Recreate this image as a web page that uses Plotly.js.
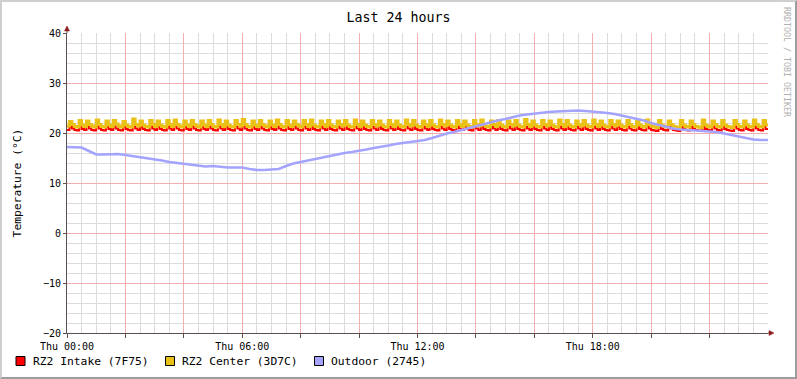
<!DOCTYPE html>
<html>
<head>
<meta charset="utf-8">
<script src="https://cdn.plot.ly/plotly-3.0.1.min.js"></script>
<style>
html,body{margin:0;padding:0;background:#fff;}
#wrap{position:relative;width:797px;height:379px;}
#chart{position:absolute;left:0;top:0;width:797px;height:379px;}
#frame{position:absolute;left:0;top:0;width:797px;height:379px;box-sizing:border-box;
 border-top:2px solid #cfcfcf;border-left:2px solid #cfcfcf;border-right:2px solid #9d9d9d;border-bottom:2px solid #9d9d9d;pointer-events:none;}
</style>
</head>
<body>
<div id="wrap"><div id="chart"></div><div id="frame"></div></div>
<script>
// ---- data (5-minute samples from Thu 00:00 to Fri 00:00) ----
const seriesNames = ['RZ2 Intake (7F75)', 'RZ2 Center (3D7C)', 'Outdoor (2745)'];
const seriesColors = ['#FF0000', '#EAC117', '#A4A4FF'];

const intake = [
20.6,21.2,20.9,20.6,20.5,21.3,20.8,20.6,21.3,20.9,20.6,20.5,
21.4,20.9,20.6,20.5,21.2,20.8,20.6,21.3,20.9,20.6,20.5,21.2,
20.8,20.6,20.5,21.4,20.9,20.6,21.2,20.8,20.6,20.5,21.3,20.9,
20.6,21.2,20.8,20.6,20.5,21.3,20.9,20.6,21.3,20.9,20.6,20.5,
21.2,20.8,20.6,21.3,20.9,20.6,20.5,21.2,20.8,20.6,21.3,20.9,
20.6,20.5,21.3,20.9,20.6,21.2,20.8,20.6,20.5,21.3,20.9,20.6,
21.4,20.9,20.6,20.5,21.2,20.8,20.6,21.3,20.9,20.6,20.5,21.2,
20.8,20.6,21.3,20.9,20.6,20.5,21.3,20.8,20.6,21.2,20.9,20.6,
20.5,21.3,20.9,20.6,21.3,20.8,20.6,20.5,21.2,20.9,20.6,21.3,
20.8,20.6,20.5,21.2,20.9,20.6,21.3,20.8,20.6,20.5,21.3,20.9,
20.6,21.2,20.8,20.6,20.5,21.3,20.9,20.6,21.2,20.8,20.6,20.5,
21.3,20.9,20.6,21.2,20.8,20.6,20.5,21.3,20.9,20.6,21.3,20.8,
20.6,20.5,21.2,20.9,20.6,21.3,20.8,20.6,20.5,21.3,20.9,20.6,
21.2,20.8,20.6,20.5,21.3,20.9,20.6,21.2,20.8,20.6,20.5,21.3,
20.9,20.6,21.3,20.8,20.6,20.5,21.2,20.9,20.6,21.3,20.8,20.6,
20.5,21.2,20.9,20.6,21.3,20.8,20.6,20.5,21.4,20.9,20.6,21.2,
20.8,20.6,20.5,21.3,20.9,20.6,21.2,20.8,20.6,20.5,21.3,20.9,
20.6,21.3,20.8,20.6,20.5,21.2,20.9,20.6,21.3,20.8,20.6,20.5,
21.3,20.9,20.6,21.2,20.8,20.6,20.5,21.3,20.9,20.6,21.2,20.8,
20.6,20.5,21.3,20.9,20.6,20.5,21.2,20.8,20.6,20.5,21.3,20.9,
20.6,20.5,20.4,21.3,20.8,20.6,20.5,21.2,20.9,20.6,20.5,20.4,
21.3,20.8,20.6,20.5,21.2,20.9,20.6,20.5,20.4,21.3,20.8,20.6,
20.5,21.2,20.9,20.6,20.5,21.3,20.8,20.6,20.5,20.4,21.3,20.9,
20.6,20.5,21.2,20.8,20.6,20.5,21.3,20.9,20.6,20.5,21.3,20.8,
20.6];

const center = [
21.4,22.3,21.7,21.3,21.2,22.5,21.6,21.3,22.4,21.7,21.4,21.2,
22.6,21.7,21.3,21.2,22.4,21.6,21.3,22.5,21.8,21.4,21.2,22.3,
21.6,21.3,21.2,22.8,21.7,21.4,22.4,21.6,21.3,21.2,22.5,21.7,
21.3,22.4,21.6,21.3,21.2,22.5,21.7,21.3,22.6,21.7,21.4,21.2,
22.4,21.6,21.3,22.5,21.7,21.4,21.2,22.4,21.6,21.3,22.5,21.7,
21.3,21.2,22.6,21.7,21.3,22.4,21.6,21.3,21.2,22.5,21.7,21.4,
22.7,21.7,21.3,21.2,22.4,21.6,21.3,22.5,21.7,21.4,21.2,22.4,
21.6,21.3,22.6,21.7,21.3,21.2,22.5,21.6,21.3,22.4,21.7,21.4,
21.2,22.5,21.7,21.3,22.6,21.6,21.3,21.2,22.4,21.7,21.3,22.5,
21.6,21.3,21.2,22.4,21.7,21.4,22.5,21.6,21.3,21.2,22.6,21.7,
21.3,22.4,21.6,21.3,21.2,22.5,21.7,21.4,22.4,21.6,21.3,21.2,
22.5,21.7,21.3,22.4,21.6,21.3,21.2,22.6,21.7,21.4,22.5,21.6,
21.3,21.2,22.4,21.7,21.3,22.5,21.6,21.3,21.2,22.6,21.7,21.4,
22.4,21.6,21.3,21.2,22.5,21.7,21.3,22.4,21.6,21.3,21.2,22.5,
21.7,21.4,22.6,21.6,21.3,21.2,22.4,21.7,21.3,22.5,21.6,21.3,
21.2,22.4,21.7,21.4,22.5,21.6,21.3,21.2,22.7,21.7,21.3,22.4,
21.6,21.3,21.2,22.5,21.7,21.4,22.4,21.6,21.3,21.2,22.6,21.7,
21.3,22.5,21.6,21.3,21.2,22.4,21.7,21.4,22.5,21.6,21.3,21.2,
22.6,21.7,21.3,22.4,21.6,21.3,21.2,22.5,21.7,21.4,22.4,21.6,
21.3,21.2,22.5,21.7,21.3,21.2,22.4,21.6,21.3,21.2,22.6,21.7,
21.4,21.2,21.1,22.5,21.6,21.3,21.2,22.4,21.7,21.3,21.2,21.1,
22.5,21.6,21.3,21.2,22.4,21.7,21.3,21.2,21.1,22.6,21.6,21.3,
21.2,22.4,21.7,21.3,21.2,22.5,21.6,21.3,21.2,21.1,22.5,21.7,
21.3,21.2,22.4,21.6,21.3,21.2,22.6,21.7,21.3,21.2,22.5,21.6,
21.3];

// outdoor: 15-minute samples
const outdoor = [
17.2,17.2,17.1,16.4,15.7,15.7,15.8,15.8,
15.6,15.4,15.1,14.9,14.7,14.5,14.2,14.0,
13.8,13.7,13.5,13.3,13.4,13.2,13.1,13.1,
13.1,12.8,12.6,12.6,12.7,12.8,13.4,13.9,
14.2,14.5,14.8,15.1,15.5,15.8,16.0,16.2,
16.4,16.7,17.0,17.2,17.5,17.8,18.0,18.2,
18.4,18.6,19.0,19.5,19.9,20.2,20.6,21.0,
21.3,21.7,22.1,22.5,22.8,23.2,23.5,23.7,
23.9,24.0,24.2,24.3,24.4,24.5,24.5,24.4,
24.3,24.2,24.0,23.8,23.5,23.2,22.9,22.5,
22.0,21.6,21.2,20.9,20.7,20.6,20.5,20.4,
20.3,20.2,19.9,19.6,19.3,19.0,18.7,18.6,
18.6];

const tickVals = ['2024-01-04 00:00','2024-01-04 02:00','2024-01-04 04:00','2024-01-04 06:00',
  '2024-01-04 08:00','2024-01-04 10:00','2024-01-04 12:00','2024-01-04 14:00',
  '2024-01-04 16:00','2024-01-04 18:00','2024-01-04 20:00','2024-01-04 22:00'];
const tickText = ['Thu 00:00','','','Thu 06:00','','','Thu 12:00','','','Thu 18:00','',''];

// ---- helpers ----
function stamp(min){
  const d = min >= 1440 ? '05' : '04';
  const m = min % 1440;
  const hh = String(Math.floor(m/60)).padStart(2,'0');
  const mm = String(m%60).padStart(2,'0');
  return '2024-01-' + d + ' ' + hh + ':' + mm;
}
const x5 = intake.map((_, i) => stamp(i*5));
const x15 = outdoor.map((_, i) => stamp(i*15));
// minor grid every 30 minutes, skipping the 2-hour major lines
const minorVals = [];
for (let m = 30; m < 1440; m += 30) { if (m % 120 !== 0) minorVals.push(stamp(m)); }

const L = 67, R = 768, T = 33, B = 333;
const fx = p => (p - L) / (R - L);
const fy = p => (B - p) / (B - T);

const mono = 'DejaVu Sans Mono, Liberation Mono, monospace';

const traces = [
  {x: x5, y: intake, type:'scatter', mode:'lines', line:{color:seriesColors[0], width:2, shape:'hv'}, name:seriesNames[0], showlegend:false, hoverinfo:'skip'},
  {x: x5, y: center, type:'scatter', mode:'lines', line:{color:seriesColors[1], width:3, shape:'hv'}, name:seriesNames[1], showlegend:false, hoverinfo:'skip'},
  {x: x15, y: outdoor, type:'scatter', mode:'lines', line:{color:seriesColors[2], width:2.6, shape:'linear'}, name:seriesNames[2], showlegend:false, hoverinfo:'skip'}
];

// legend (rrdtool style boxes)
const legendBoxX = [16, 165.5, 314.5];
const legendTextX = [30.5, 180, 328.5];
const shapes = [];
const annotations = [];
seriesNames.forEach((n, i) => {
  shapes.push({type:'rect', xref:'paper', yref:'paper', x0:fx(legendBoxX[i]), x1:fx(legendBoxX[i]+9), y0:fy(365.5), y1:fy(356.5),
    fillcolor:seriesColors[i], line:{color:'#000', width:1}});
  annotations.push({xref:'paper', yref:'paper', x:fx(legendTextX[i]), y:fy(361), xanchor:'left', yanchor:'middle', showarrow:false,
    text:n, font:{family:mono, size:11.3, color:'#000'}});
});
// axis extensions + arrows
shapes.push({type:'line', xref:'paper', yref:'paper', x0:0, x1:0, y0:1, y1:fy(29), line:{color:'#5a5050', width:1}});
shapes.push({type:'path', xref:'paper', yref:'paper', path:`M ${fx(64.5)},${fy(31)} L ${fx(69.5)},${fy(31)} L ${fx(67)},${fy(26)} Z`, fillcolor:'#8c1c1c', line:{color:'#8c1c1c', width:0.5}});
shapes.push({type:'line', xref:'paper', yref:'paper', x0:1, x1:fx(771), y0:0, y1:0, line:{color:'#5a5050', width:1}});
shapes.push({type:'path', xref:'paper', yref:'paper', path:`M ${fx(769)},${fy(330.5)} L ${fx(769)},${fy(335.5)} L ${fx(774)},${fy(333)} Z`, fillcolor:'#8c1c1c', line:{color:'#8c1c1c', width:0.5}});
// watermark
annotations.push({xref:'paper', yref:'paper', x:fx(787), y:fy(62), xanchor:'center', yanchor:'middle', showarrow:false, textangle:90,
  text:'RRDTOOL / TOBI OETIKER', font:{family:mono, size:8.3, color:'#b0b0b0'}});

const layout = {
  width:797, height:379,
  margin:{l:L, r:797-R, t:T, b:379-B, pad:0},
  paper_bgcolor:'#ffffff', plot_bgcolor:'#ffffff',
  title:{text:'Last 24 hours', x:0.5, xref:'container', xanchor:'center', y:1-17/379, yref:'container', yanchor:'middle',
    font:{family:mono, size:13.3, color:'#000'}},
  font:{family:mono, color:'#000'},
  xaxis:{type:'date', range:['2024-01-04 00:00','2024-01-05 00:00'], tickmode:'array', tickvals:tickVals, ticktext:tickText,
    ticks:'outside', ticklen:4, tickcolor:'#5a5050', tickwidth:1,
    showgrid:true, gridcolor:'#f1aeae', gridwidth:1,
    minor:{tickmode:'array', tickvals:minorVals, showgrid:true, gridcolor:'#dcdcdc', gridwidth:1, ticks:''},
    showline:true, linecolor:'#5a5050', linewidth:1, zeroline:false, fixedrange:true,
    tickfont:{family:mono, size:10, color:'#000'}},
  yaxis:{range:[-20,40], tickmode:'linear', tick0:0, dtick:10,
    ticks:'outside', ticklen:3, tickcolor:'#5a5050',
    showgrid:true, gridcolor:'#f1aeae', gridwidth:1,
    minor:{tickmode:'linear', tick0:0, dtick:2, showgrid:true, gridcolor:'#dcdcdc', gridwidth:1, ticks:''},
    showline:true, linecolor:'#5a5050', linewidth:1, zeroline:false, fixedrange:true,
    tickfont:{family:mono, size:10, color:'#000'},
    title:{text:'Temperature (°C)', standoff:18, font:{family:mono, size:11.3, color:'#000'}}},
  shapes: shapes,
  annotations: annotations,
  showlegend:false
};

Plotly.newPlot('chart', traces, layout, {staticPlot:true, displayModeBar:false});
</script>
</body>
</html>
